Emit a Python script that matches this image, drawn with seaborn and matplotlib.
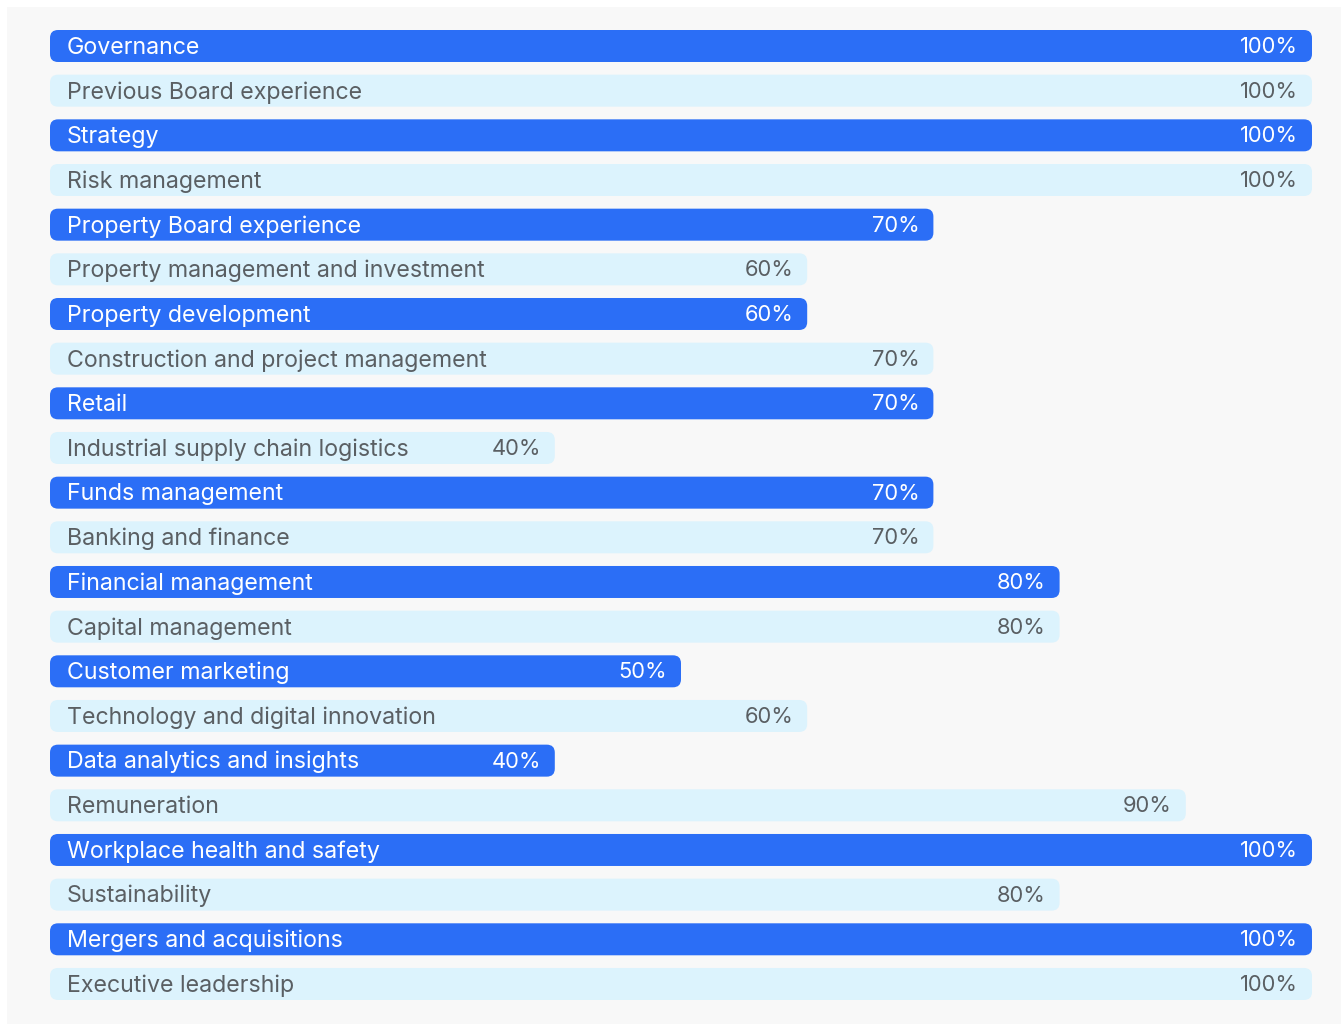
import matplotlib
matplotlib.use("Agg")
import matplotlib.pyplot as plt
import seaborn as sns
import pandas as pd
from matplotlib.patches import FancyBboxPatch, Rectangle

categories = [
    "Governance", "Previous Board experience", "Strategy", "Risk management",
    "Property Board experience", "Property management and investment",
    "Property development", "Construction and project management", "Retail",
    "Industrial supply chain logistics", "Funds management", "Banking and finance",
    "Financial management", "Capital management", "Customer marketing",
    "Technology and digital innovation", "Data analytics and insights",
    "Remuneration", "Workplace health and safety", "Sustainability",
    "Mergers and acquisitions", "Executive leadership",
]
values = [100, 100, 100, 100, 70, 60, 60, 70, 70, 40, 70, 70, 80, 80, 50, 60, 40, 90, 100, 80, 100, 100]
value_labels = [f"{v}%" for v in values]

DARK = "#2b6ef6"
LIGHT = "#dcf3fd"
TEXT_DARK = "#ffffff"
TEXT_LIGHT = "#5a5f63"

sns.set_theme(style="white")
plt.rcParams["font.family"] = ["Inter", "DejaVu Sans"]

W, H = 1341, 1024
fig = plt.figure(figsize=(W / 100, H / 100), dpi=100)
fig.patch.set_facecolor("white")
fig.patches.append(Rectangle((7 / W, 0), 1 - 7 / W, 1 - 7 / H, transform=fig.transFigure,
                             facecolor="#f8f8f8", edgecolor="none", zorder=-10))

left_px, right_px = 50, 1312
top_px, bot_px = 23.67, 1006.3
ax = fig.add_axes([left_px / W, 1 - bot_px / H, (right_px - left_px) / W, (bot_px - top_px) / H])
ax.set_facecolor("none")
ax.set_zorder(5)

df = pd.DataFrame({"cat": categories, "val": values,
                   "kind": ["dark" if i % 2 == 0 else "light" for i in range(len(categories))]})
bar_h = 32 / 44.67
sns.barplot(data=df, y="cat", x="val", hue="kind", palette={"dark": DARK, "light": LIGHT},
            orient="h", width=bar_h, dodge=False, legend=False, saturation=1, ax=ax)
ax.set_xlim(0, 100)
ax.set_ylim(len(categories) - 0.5, -0.5)

px_x = (right_px - left_px) / 100.0
px_y = (bot_px - top_px) / len(categories)
radius_px = 8
rs = radius_px / px_x
aspect = px_x / px_y

patches = list(ax.patches)
for p in patches:
    x, y, w, h = p.get_x(), p.get_y(), p.get_width(), p.get_height()
    fc = p.get_facecolor()
    p.remove()
    if not w or w <= 0:
        continue
    ax.add_patch(FancyBboxPatch((x, y), w, h, boxstyle=f"round,pad=0,rounding_size={rs}",
                                mutation_aspect=aspect, facecolor=fc, edgecolor="none", zorder=2))

pad_l = 17 / px_x
pad_r = 14 / px_x
for i, (c, v, lab) in enumerate(zip(categories, values, value_labels)):
    col = TEXT_DARK if i % 2 == 0 else TEXT_LIGHT
    ax.text(pad_l, i - 0.02, c, ha="left", va="center_baseline", fontsize=16.7, color=col, zorder=3)
    ax.text(v - pad_r, i - 0.02, lab, ha="right", va="center_baseline", fontsize=15.8, color=col, zorder=3)

ax.set_xlabel("")
ax.set_ylabel("")
ax.set_xticks([])
ax.set_yticks([])
for s in ax.spines.values():
    s.set_visible(False)

fig.savefig("out.png", dpi=100, facecolor=fig.get_facecolor())
